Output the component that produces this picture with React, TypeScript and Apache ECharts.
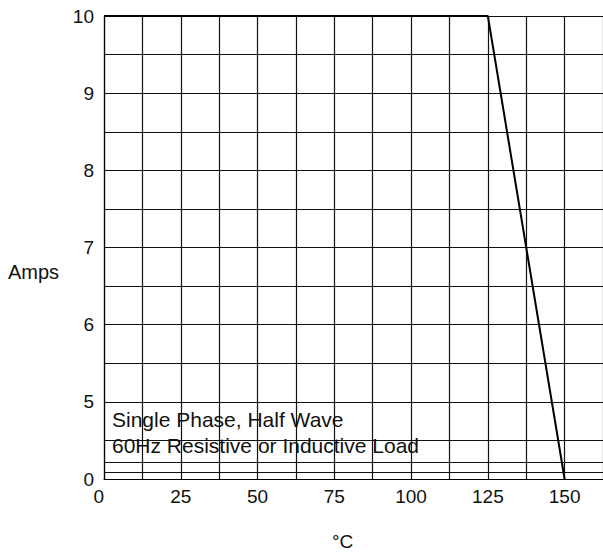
import React, { useEffect, useRef } from "react";
import * as echarts from "echarts";

// Derating curve: case temperature (°C) vs. average forward current (Amps)
const temperatures = [0, 125, 150];
const amps = [10, 10, 0];

// Axis ticks
const xTickStep = 12.5;
const xMax = 162.5;
const xLabelValues = [0, 25, 50, 75, 100, 125, 150];
const yLabelValues = [5, 6, 7, 8, 9, 10];
const yMinAxis = 4; // broken axis: bottom of the plot represents 0 A
const yTickStep = 0.5;
const yMaxAxis = 10;
// extra horizontal rules in the compressed region below 5 A (axis units)
const extraGridLines = [4.22, 4.09];

const noteLines = ["Single Phase, Half Wave", "60Hz Resistive or Inductive Load"];

// Values below 5 A are drawn in a compressed band between the 5 line and the bottom
const toAxis = (v: number) => (v >= 5 ? v : yMinAxis + v / 5);

const FONT = "'Liberation Sans', Arial, sans-serif";

export default function App() {
  const ref = useRef<HTMLDivElement>(null);
  useEffect(() => {
    if (!ref.current) return;
    const chart = echarts.init(ref.current, undefined, { renderer: "svg" });
    const lineData = temperatures.map((t, i) => [t, toAxis(amps[i])]);
    chart.setOption({
      animation: false,
      backgroundColor: "#fff",
      grid: { left: 104, top: 16, right: 0, bottom: 73, containLabel: false },
      xAxis: {
        type: "value",
        min: 0,
        max: xMax,
        interval: xTickStep,
        axisLine: { show: true, lineStyle: { color: "#000", width: 1 } },
        axisTick: { show: false },
        splitLine: { show: true, lineStyle: { color: "#111", width: 1.2 } },
        axisLabel: {
          margin: 8,
          fontSize: 19,
          color: "#111",
          fontFamily: FONT,
          alignMinLabel: "right",
          showMaxLabel: false,
          formatter: (v: number) => (xLabelValues.includes(v) ? String(v) : ""),
        },
      },
      yAxis: {
        type: "value",
        min: yMinAxis,
        max: yMaxAxis,
        interval: yTickStep,
        axisLine: { show: true, lineStyle: { color: "#000", width: 1.2 } },
        axisTick: { show: false },
        splitLine: { show: true, lineStyle: { color: "#111", width: 1.2 } },
        axisLabel: {
          margin: 10,
          fontSize: 19,
          color: "#111",
          fontFamily: FONT,
          formatter: (v: number) =>
            v === yMinAxis ? "0" : yLabelValues.includes(v) ? String(v) : "",
        },
      },
      series: [
        {
          type: "line",
          data: lineData,
          symbol: "none",
          clip: false,
          lineStyle: { color: "#000", width: 2 },
          markLine: {
            silent: true,
            symbol: "none",
            label: { show: false },
            lineStyle: { color: "#111", width: 1.2, type: "solid" },
            data: extraGridLines.map((y) => ({ yAxis: y })),
          },
        },
      ],
      graphic: [
        {
          type: "text",
          left: 8,
          top: 262,
          style: { text: "Amps", fontSize: 20, fill: "#111", fontFamily: FONT },
        },
        {
          type: "text",
          left: 332,
          top: 532,
          style: { text: "°C", fontSize: 19, fill: "#111", fontFamily: FONT },
        },
        {
          type: "text",
          left: 112,
          top: 406,
          style: {
            text: noteLines.join("\n"),
            fontSize: 21,
            lineHeight: 26,
            fill: "#111",
            fontFamily: FONT,
          },
        },
      ],
    });
    return () => chart.dispose();
  }, []);
  return (
    <div
      ref={ref}
      style={{ position: "absolute", left: 0, top: 0, width: 603, height: 552 }}
    />
  );
}
